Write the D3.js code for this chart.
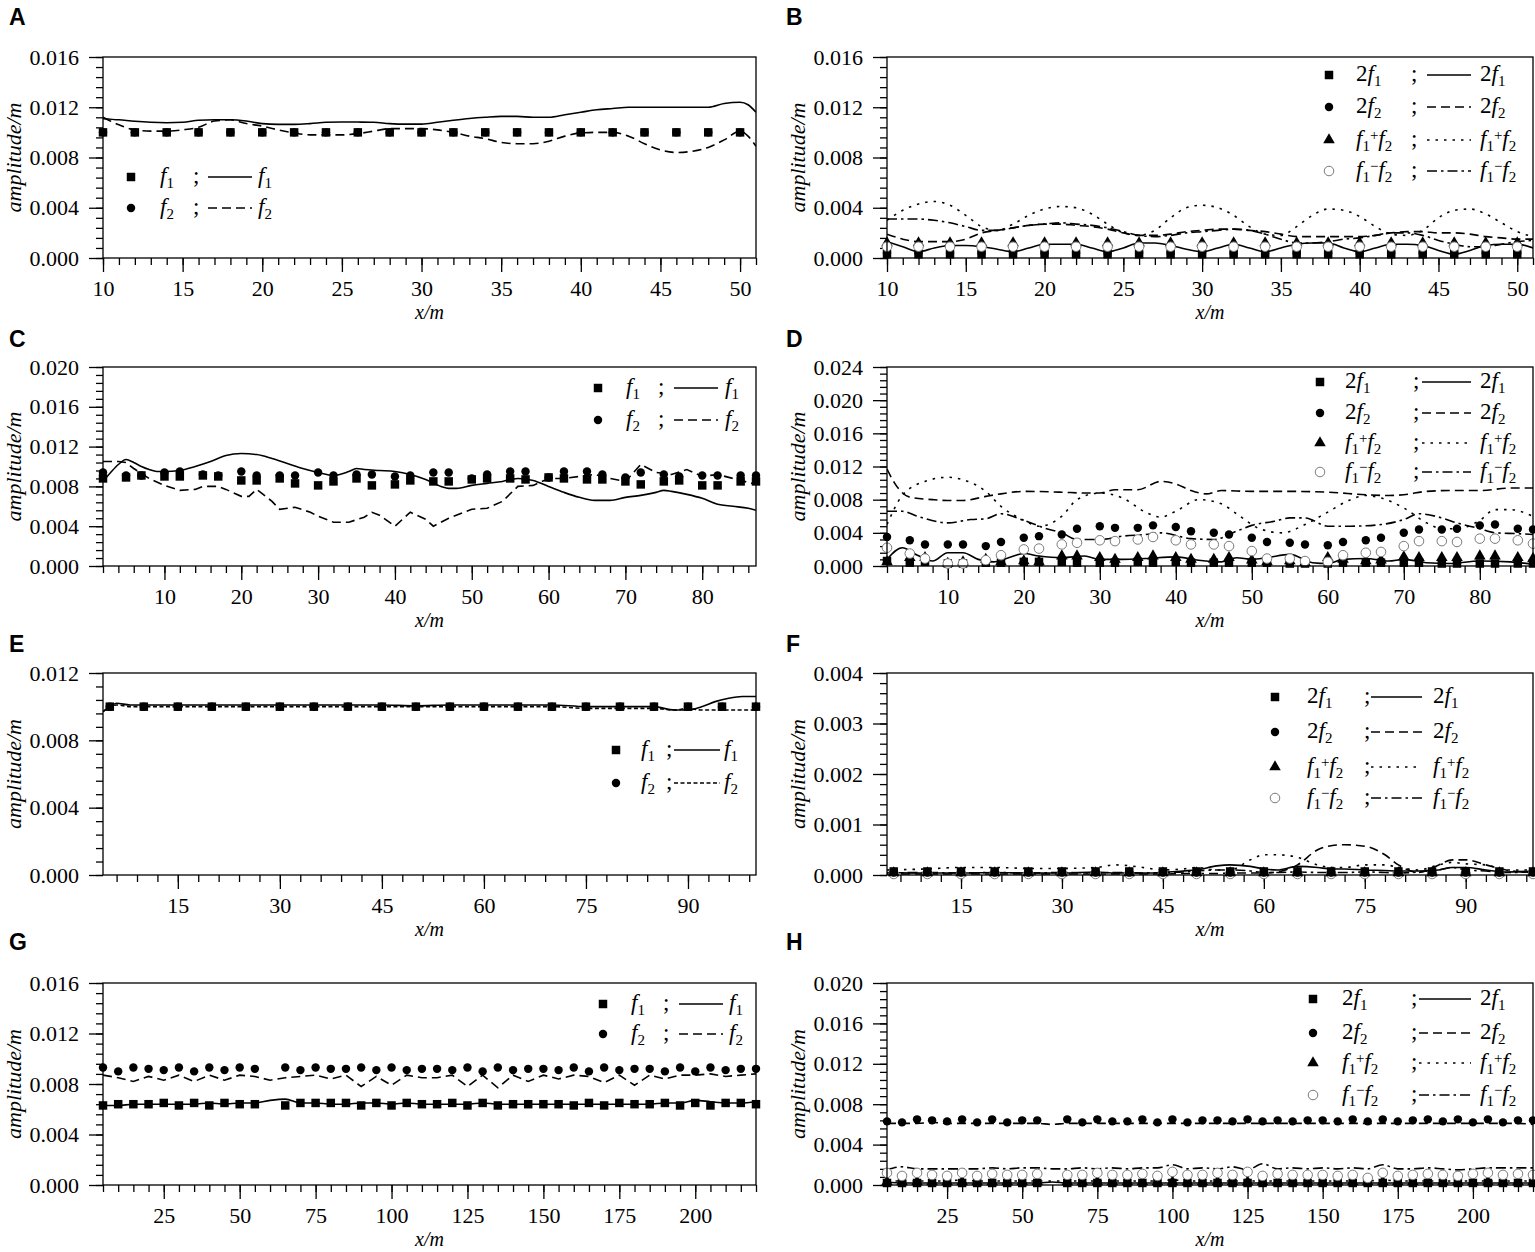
<!DOCTYPE html>
<html lang="en">
<head>
<meta charset="utf-8">
<title>Amplitude along the flume</title>
<script src="https://d3js.org/d3.v7.min.js"></script>
<style>
  body { margin: 0; background: #fff; }
  svg { display: block; }
  .tick text { font-family: "Liberation Serif", "Times New Roman", serif; font-size: 22px; fill: #000; }
  .tick line { stroke: #000; stroke-width: 1.3; }
  .frame { fill: none; stroke: #000; stroke-width: 1.3; }
  .axlab { font-family: "Liberation Serif", serif; font-style: italic; font-size: 20px; }
  .ylab { font-family: "Liberation Serif", serif; font-style: italic; font-size: 22px; }
  .plab { font-family: "Liberation Sans", Arial, sans-serif; font-weight: bold; font-size: 23px; }
  .leg { font-family: "Liberation Serif", serif; font-size: 23px; }
</style>
</head>
<body>
<svg id="fig" width="1535" height="1252"></svg>
<script>
// ---- tick labels ----
var xTicksAB = [10, 15, 20, 25, 30, 35, 40, 45, 50];
var xTicksCD = [10, 20, 30, 40, 50, 60, 70, 80];
var xTicksEF = [15, 30, 45, 60, 75, 90];
var xTicksGH = [25, 50, 75, 100, 125, 150, 175, 200];
var yTicks016 = [0, 0.004, 0.008, 0.012, 0.016];
var yTicks020 = [0, 0.004, 0.008, 0.012, 0.016, 0.020];
var yTicks024 = [0, 0.004, 0.008, 0.012, 0.016, 0.020, 0.024];
var yTicks012 = [0, 0.004, 0.008, 0.012];
var yTicks004 = [0, 0.001, 0.002, 0.003, 0.004];

// ---- panel A / B ----
var markX_AB = [10, 12, 14, 16, 18, 20, 22, 24, 26, 28, 30, 32, 34, 36, 38, 40, 42, 44, 46, 48, 50];
var aF1Mark = [0.0100, 0.0100, 0.0100, 0.0100, 0.0100, 0.0100, 0.0100, 0.0100, 0.0100, 0.0100, 0.0100,
  0.0100, 0.0100, 0.0100, 0.0100, 0.0100, 0.0100, 0.0100, 0.0100, 0.0100, 0.0100];
var aF2Mark = [0.0100, 0.0100, 0.0100, 0.0100, 0.0100, 0.0100, 0.0100, 0.0100, 0.0100, 0.0100, 0.0100,
  0.0100, 0.0100, 0.0100, 0.0100, 0.0100, 0.0100, 0.0100, 0.0100, 0.0100, 0.0100];
var lineX_A = [10, 11, 12, 13, 14, 15, 16, 17, 18, 19, 20, 21, 22, 23, 24, 25, 26, 27, 28, 29, 30,
  31, 32, 33, 34, 35, 36, 37, 38, 39, 40, 41, 42, 43, 44, 45, 46, 47, 48, 49, 50, 50.5, 51];
var aF1Line = [0.01109, 0.0110, 0.01088, 0.0108, 0.01077, 0.0108, 0.01096, 0.0110, 0.0110, 0.0109,
  0.0107, 0.01064, 0.01064, 0.0107, 0.0108, 0.01083, 0.01082, 0.0108, 0.0107, 0.01066,
  0.01066, 0.0108, 0.01096, 0.0111, 0.0112, 0.01127, 0.01127, 0.0112, 0.0112, 0.0114,
  0.0116, 0.0118, 0.0119, 0.0120, 0.0120, 0.0120, 0.0120, 0.0120, 0.0120, 0.0123,
  0.0124, 0.0122, 0.0116];
var aF2Line = [0.0112, 0.0106, 0.0102, 0.0101, 0.0101, 0.0102, 0.0104, 0.0109, 0.0110, 0.0107,
  0.0105, 0.0102, 0.00995, 0.0098, 0.0098, 0.0098, 0.0099, 0.0101, 0.0103, 0.0103,
  0.0103, 0.0102, 0.0100, 0.0097, 0.0095, 0.0092, 0.0091, 0.0091, 0.0093, 0.0097,
  0.00995, 0.0100, 0.0100, 0.0097, 0.0091, 0.0086, 0.0084, 0.0085, 0.0088, 0.0094,
  0.0101, 0.0097, 0.0089];

var b2f1Mark = [0.0003, 0.0003, 0.0003, 0.0003, 0.0003, 0.0003, 0.0003, 0.0003, 0.0003, 0.0003, 0.0003,
  0.0003, 0.0003, 0.0003, 0.0003, 0.0003, 0.0003, 0.0003, 0.0003, 0.0003, 0.0003];
var b2f2Mark = [0.0004, 0.0004, 0.0004, 0.0004, 0.0004, 0.0004, 0.0004, 0.0004, 0.0004, 0.0004, 0.0004,
  0.0004, 0.0004, 0.0004, 0.0004, 0.0004, 0.0004, 0.0004, 0.0004, 0.0004, 0.0004];
var bSumMark = [0.0012, 0.0012, 0.0012, 0.0012, 0.0012, 0.0012, 0.0012, 0.0012, 0.0012, 0.0012, 0.0012,
  0.0012, 0.0012, 0.0012, 0.0012, 0.0012, 0.0012, 0.0012, 0.0012, 0.0012, 0.0012];
var bDiffMark = [0.0009, 0.0009, 0.0009, 0.0009, 0.0009, 0.0009, 0.0009, 0.0009, 0.0009, 0.0009, 0.0009,
  0.0009, 0.0009, 0.0009, 0.0009, 0.0009, 0.0009, 0.0009, 0.0009, 0.0009, 0.0009];
var lineX_B = [10, 11, 12, 13, 14, 15, 16, 17, 18, 19, 20, 21, 22, 23, 24, 25, 26, 27, 28, 29, 30,
  31, 32, 33, 34, 35, 36, 37, 38, 39, 40, 41, 42, 43, 44, 45, 46, 47, 48, 49, 50, 51];
var b2f1Line = [0.0013, 0.0009, 0.0005, 0.0008, 0.0010, 0.0010, 0.0009, 0.0007, 0.0005, 0.0008,
  0.0011, 0.0011, 0.0011, 0.0008, 0.0005, 0.0008, 0.0012, 0.0012, 0.0010, 0.0007,
  0.0005, 0.0008, 0.0011, 0.0008, 0.0005, 0.0008, 0.0011, 0.0012, 0.0012, 0.0008,
  0.0005, 0.0008, 0.0011, 0.0011, 0.0010, 0.0006, 0.0003, 0.0006, 0.0010, 0.0011,
  0.0011, 0.0008];
var b2f2Line = [0.0019, 0.0015, 0.0013, 0.0013, 0.0013, 0.0015, 0.0020, 0.0022, 0.0024, 0.0026,
  0.0027, 0.0027, 0.0026, 0.0025, 0.0023, 0.0020, 0.0018, 0.0018, 0.0019, 0.0021,
  0.0022, 0.0023, 0.0023, 0.0022, 0.0021, 0.0019, 0.0017, 0.0017, 0.0017, 0.0017,
  0.0017, 0.0018, 0.0020, 0.0021, 0.0021, 0.0020, 0.0020, 0.0019, 0.0017, 0.0016,
  0.0015, 0.0015];
var bSumLine = [0.0030, 0.0038, 0.0043, 0.0045, 0.0042, 0.0034, 0.0025, 0.0022, 0.0027, 0.0034,
  0.0039, 0.0041, 0.0040, 0.0035, 0.0027, 0.0020, 0.0018, 0.0022, 0.0032, 0.0040,
  0.0042, 0.0040, 0.0034, 0.0025, 0.0019, 0.0018, 0.0025, 0.0034, 0.0039, 0.0038,
  0.0033, 0.0025, 0.0019, 0.0018, 0.0022, 0.0032, 0.0038, 0.0039, 0.0035, 0.0028,
  0.0021, 0.0017];
var bDiffLine = [0.0031, 0.0031, 0.0031, 0.0030, 0.0028, 0.0025, 0.0022, 0.0022, 0.0024, 0.0026,
  0.0027, 0.0028, 0.0027, 0.0026, 0.0024, 0.0021, 0.0018, 0.0017, 0.0018, 0.0020,
  0.0021, 0.0022, 0.0023, 0.0022, 0.0019, 0.0015, 0.0012, 0.0012, 0.0013, 0.0015,
  0.0016, 0.0018, 0.0020, 0.0020, 0.0018, 0.0014, 0.0011, 0.0009, 0.0009, 0.0011,
  0.0013, 0.0014];

// ---- panel C / D ----
var markX_CD = [2, 5, 7, 10, 12, 15, 17, 20, 22, 25, 27, 30, 32, 35, 37, 40, 42, 45, 47, 50,
  52, 55, 57, 60, 62, 65, 67, 70, 72, 75, 77, 80, 82, 85, 87];
var cF1Mark = [0.0088, 0.0089, 0.0091, 0.0090, 0.0090, 0.0091, 0.0090, 0.0086, 0.0086, 0.0088,
  0.0083, 0.0081, 0.0085, 0.0088, 0.0081, 0.0082, 0.0086, 0.0085, 0.0085, 0.0087,
  0.0088, 0.0088, 0.0087, 0.0089, 0.0088, 0.0087, 0.0087, 0.0085, 0.0082, 0.0085,
  0.0086, 0.0081, 0.0081, 0.0085, 0.0085];
var cF2Mark = [0.0094, 0.0091, 0.0091, 0.0094, 0.0095, 0.0092, 0.0091, 0.0095, 0.0091, 0.0091,
  0.0091, 0.0094, 0.0091, 0.0092, 0.0092, 0.0090, 0.0091, 0.0094, 0.0094, 0.0088,
  0.0092, 0.0095, 0.0095, 0.0089, 0.0095, 0.0095, 0.0092, 0.0089, 0.0094, 0.0092,
  0.0090, 0.0091, 0.0091, 0.0091, 0.0091];
var cF1X = [2, 3, 4, 5, 6, 7, 8, 9, 10, 12, 14, 16, 18, 20, 22, 24, 26, 28, 30, 32, 34, 35, 36, 38,
  40, 42, 44, 46, 47, 48, 50, 52, 54, 56, 58, 60, 62, 64, 66, 68, 70, 72, 74, 75, 76, 78, 80, 82, 84, 86, 87];
var cF1Line = [0.0085, 0.0094, 0.0102, 0.0107, 0.0104, 0.0100, 0.0097, 0.0095, 0.0095,
  0.0096, 0.0100, 0.0105, 0.0111, 0.0113, 0.0112, 0.0108, 0.0103, 0.0098, 0.0094,
  0.0091, 0.0095, 0.0098, 0.0097, 0.0096, 0.0095, 0.0092, 0.0087, 0.0080, 0.0078,
  0.0078, 0.0081, 0.0083, 0.0085, 0.0088, 0.0086, 0.0080, 0.0074, 0.0069, 0.0066,
  0.0066, 0.0069, 0.0071, 0.0074, 0.0076, 0.0075, 0.0072, 0.0068, 0.0062, 0.0060,
  0.0058, 0.0056];
var cF2X = [2, 4, 5, 6, 8, 10, 12, 14, 15, 17, 18, 20, 21, 22, 24, 25, 27, 29, 30, 32, 34, 36, 37, 38,
  40, 42, 44, 45, 47, 50, 52, 54, 56, 58, 60, 62, 64, 66, 68, 70, 72, 74, 76, 78, 80, 82, 84, 87];
var cF2Line = [0.0105, 0.0105, 0.0104, 0.0098, 0.0088, 0.0081, 0.0076, 0.0077, 0.0080, 0.0080,
  0.0077, 0.0070, 0.0070, 0.0077, 0.0065, 0.0057, 0.0059, 0.0054, 0.0050, 0.0044,
  0.0044, 0.0049, 0.0054, 0.0051, 0.0040, 0.0054, 0.0047, 0.0040, 0.0048, 0.0057,
  0.0058, 0.0065, 0.0080, 0.0081, 0.0088, 0.0088, 0.0090, 0.0092, 0.0088, 0.0085,
  0.0102, 0.0094, 0.0092, 0.0097, 0.0090, 0.0092, 0.0088, 0.0082];

var d2f1Mark = [0.0006, 0.0004, 0.0005, 0.0003, 0.0003, 0.0004, 0.0004, 0.0005, 0.0005, 0.0005,
  0.0004, 0.0004, 0.0004, 0.0005, 0.0004, 0.0005, 0.0004, 0.0004, 0.0004, 0.0004,
  0.0004, 0.0003, 0.0003, 0.0003, 0.0004, 0.0004, 0.0004, 0.0004, 0.0004, 0.0003,
  0.0003, 0.0003, 0.0003, 0.0003, 0.0003];
var d2f2Mark = [0.0035, 0.0031, 0.0026, 0.0026, 0.0026, 0.0024, 0.0029, 0.0034, 0.0036, 0.0038,
  0.0045, 0.0048, 0.0046, 0.0046, 0.0049, 0.0047, 0.0042, 0.0040, 0.0038, 0.0034,
  0.0029, 0.0028, 0.0026, 0.0025, 0.0029, 0.0031, 0.0034, 0.0040, 0.0044, 0.0044,
  0.0045, 0.0049, 0.0050, 0.0045, 0.0044];
var dSumMark = [0.0005, 0.0010, 0.0010, 0.0003, 0.0005, 0.0008, 0.0005, 0.0006, 0.0005, 0.0012,
  0.0012, 0.0010, 0.0008, 0.0010, 0.0012, 0.0010, 0.0008, 0.0008, 0.0010, 0.0007,
  0.0005, 0.0006, 0.0004, 0.0010, 0.0008, 0.0006, 0.0007, 0.0011, 0.0010, 0.0010,
  0.0010, 0.0012, 0.0012, 0.0010, 0.0009];
var dDiffMark = [0.0022, 0.0015, 0.0009, 0.0003, 0.0003, 0.0007, 0.0013, 0.0020, 0.0021, 0.0026,
  0.0028, 0.0031, 0.0030, 0.0032, 0.0035, 0.0031, 0.0026, 0.0026, 0.0024, 0.0018,
  0.0009, 0.0009, 0.0006, 0.0005, 0.0013, 0.0016, 0.0017, 0.0024, 0.0030, 0.0030,
  0.0029, 0.0033, 0.0033, 0.0031, 0.0027];
var d2f1X = [2, 4, 6, 8, 10, 12, 14, 16, 18, 20, 22, 25, 28, 30, 33, 36, 40, 43, 46, 48,
  50, 52, 55, 58, 60, 62, 65, 68, 70, 73, 76, 80, 84, 87];
var d2f1Line = [0.0008, 0.0022, 0.0013, 0.0006, 0.0016, 0.0016, 0.0008, 0.0005, 0.0010, 0.0015,
  0.0012, 0.0010, 0.0012, 0.0008, 0.0008, 0.0009, 0.0011, 0.0007, 0.0005, 0.0010,
  0.0008, 0.0010, 0.0014, 0.0004, 0.0003, 0.0008, 0.0009, 0.0006, 0.0008, 0.0004,
  0.0003, 0.0006, 0.0005, 0.0002];
var d2f2X = [2, 3, 5, 8, 10, 12, 15, 17, 20, 25, 28, 30, 32, 35, 38, 40, 42, 44, 46, 50,
  55, 60, 65, 68, 70, 73, 76, 80, 84, 87];
var d2f2Line = [0.0117, 0.0100, 0.0083, 0.0080, 0.0079, 0.0079, 0.0084, 0.0087, 0.0090, 0.0089,
  0.0088, 0.0088, 0.0092, 0.0092, 0.0102, 0.0099, 0.0091, 0.0087, 0.0091, 0.0090,
  0.0090, 0.0089, 0.0086, 0.0085, 0.0086, 0.0090, 0.0091, 0.0091, 0.0094, 0.0094];
var dSumX = [2, 4, 7, 10, 12, 15, 17, 20, 22, 25, 27, 30, 33, 36, 38, 40, 43, 46, 48, 51,
  54, 57, 60, 63, 65, 67, 70, 73, 75, 77, 80, 82, 84, 87];
var dSumLine = [0.0050, 0.0085, 0.0102, 0.0107, 0.0104, 0.0090, 0.0072, 0.0055, 0.0048, 0.0060,
  0.0080, 0.0088, 0.0082, 0.0065, 0.0059, 0.0066, 0.0080, 0.0075, 0.0063, 0.0045,
  0.0040, 0.0050, 0.0065, 0.0080, 0.0085, 0.0082, 0.0070, 0.0052, 0.0045, 0.0045,
  0.0055, 0.0068, 0.0068, 0.0060];
var dDiffX = [2, 4, 6, 10, 13, 15, 17, 20, 23, 25, 27, 30, 33, 36, 38, 42, 45, 48, 50, 53,
  55, 57, 60, 63, 67, 70, 72, 75, 77, 80, 82, 85, 87];
var dDiffLine = [0.0066, 0.0066, 0.0060, 0.0052, 0.0056, 0.0057, 0.0063, 0.0055, 0.0045, 0.0040,
  0.0032, 0.0032, 0.0036, 0.0038, 0.0040, 0.0033, 0.0032, 0.0042, 0.0049, 0.0054,
  0.0058, 0.0058, 0.0048, 0.0048, 0.0050, 0.0056, 0.0063, 0.0058, 0.0052, 0.0045,
  0.0040, 0.0039, 0.0038];

// ---- panel E / F ----
var markX_EF = [5, 10, 15, 20, 25, 30, 35, 40, 45, 50, 55, 60, 65, 70, 75, 80, 85, 90, 95, 100];
var eF1Mark = [0.0100, 0.0100, 0.0100, 0.0100, 0.0100, 0.0100, 0.0100, 0.0100, 0.0100, 0.0100,
  0.0100, 0.0100, 0.0100, 0.0100, 0.0100, 0.0100, 0.0100, 0.0100, 0.0100, 0.0100];
var eF2Mark = [0.0100, 0.0100, 0.0100, 0.0100, 0.0100, 0.0100, 0.0100, 0.0100, 0.0100, 0.0100,
  0.0100, 0.0100, 0.0100, 0.0100, 0.0100, 0.0100, 0.0100, 0.0100, 0.0100, 0.0100];
var lineX_E = [4, 5, 6, 8, 10, 15, 20, 25, 30, 35, 40, 45, 50, 55, 60, 65, 70, 75, 80, 85,
  88, 90, 92, 94, 96, 98, 100];
var eF1Line = [0.0097, 0.0100, 0.0102, 0.0101, 0.0101, 0.0101, 0.0101, 0.0101, 0.0101, 0.0101,
  0.0101, 0.0101, 0.01005, 0.0101, 0.0101, 0.0101, 0.0101, 0.0100, 0.0100, 0.0100,
  0.0098, 0.0098, 0.0100, 0.0103, 0.0105, 0.0106, 0.0106];
var eF2Line = [0.0097, 0.0100, 0.0101, 0.0100, 0.0100, 0.0100, 0.0100, 0.0100, 0.0100, 0.0100,
  0.0100, 0.0100, 0.0100, 0.0100, 0.0100, 0.0100, 0.0100, 0.0099, 0.0099, 0.0099,
  0.0098, 0.0099, 0.0098, 0.0098, 0.0098, 0.0098, 0.0098];

var f2f1Mark = [0.00007, 0.00007, 0.00007, 0.00007, 0.00007, 0.00007, 0.00007, 0.00007, 0.00007, 0.00007,
  0.00007, 0.00007, 0.00007, 0.00007, 0.00007, 0.00007, 0.00007, 0.00007, 0.00007, 0.00007];
var f2f2Mark = [0.00005, 0.00005, 0.00005, 0.00005, 0.00005, 0.00005, 0.00005, 0.00005, 0.00005, 0.00005,
  0.00005, 0.00005, 0.00005, 0.00005, 0.00005, 0.00005, 0.00005, 0.00005, 0.00005, 0.00005];
var fSumMark = [0.00004, 0.00004, 0.00004, 0.00004, 0.00004, 0.00004, 0.00004, 0.00004, 0.00004, 0.00004,
  0.00004, 0.00004, 0.00004, 0.00004, 0.00004, 0.00004, 0.00004, 0.00004, 0.00004, 0.00004];
var fDiffMark = [0.00002, 0.00002, 0.00002, 0.00002, 0.00002, 0.00002, 0.00002, 0.00002, 0.00002, 0.00002,
  0.00002, 0.00002, 0.00002, 0.00002, 0.00002, 0.00002, 0.00002, 0.00002, 0.00002, 0.00002];
var lineX_F = [4, 10, 15, 20, 25, 30, 35, 38, 42, 45, 48, 50, 53, 55, 58, 60, 62, 65, 68, 70,
  72, 75, 78, 80, 83, 86, 88, 90, 93, 96, 100];
var f2f1Line = [0.00005, 0.00004, 0.00004, 0.00005, 0.00004, 0.00004, 0.00006, 0.00004, 0.00004, 0.00005,
  0.00008, 0.0001, 0.00018, 0.0002, 0.00017, 0.00012, 0.0001, 0.00017, 0.00015, 0.00012,
  0.00012, 0.0001, 0.00009, 0.00008, 0.00008, 0.0001, 0.00015, 0.00015, 0.0001, 0.00006,
  0.00008];
var f2f2Line = [0.00002, 0.00002, 0.00002, 0.00002, 0.00002, 0.00002, 0.00002, 0.00002, 0.00002, 0.00002,
  0.00003, 0.00003, 0.00003, 0.00004, 0.00004, 0.00004, 0.00006, 0.0002, 0.0005, 0.00058,
  0.0006, 0.00057, 0.0004, 0.0002, 0.00005, 0.0002, 0.0003, 0.0003, 0.0002, 0.0001,
  0.00005];
var fSumLine = [0.0001, 0.00012, 0.00015, 0.00015, 0.00013, 0.00013, 0.00015, 0.0002, 0.00015, 0.0001,
  0.00012, 0.00015, 0.0001, 0.0001, 0.0003, 0.0004, 0.0004, 0.00035, 0.0002, 0.00015,
  0.00015, 0.0002, 0.0002, 0.00015, 0.0001, 0.0002, 0.00025, 0.00022, 0.0002, 0.0001,
  0.0001];
var fDiffLine = [0.00004, 0.00005, 0.00004, 0.00005, 0.00004, 0.00005, 0.00004, 0.00005, 0.00004, 0.00005,
  0.00006, 0.00008, 0.0001, 0.0001, 0.00008, 0.00005, 0.00005, 0.00006, 0.00005, 0.00005,
  0.00005, 0.00006, 0.00005, 0.00004, 0.00006, 0.0001, 0.00015, 0.0001, 0.00008, 0.00005,
  0.00006];

// ---- panel G / H ----
var markX_GH = [5, 10, 15, 20, 25, 30, 35, 40, 45, 50, 55, 65, 70, 75, 80, 85, 90, 95, 100, 105,
  110, 115, 120, 125, 130, 135, 140, 145, 150, 155, 160, 165, 170, 175, 180, 185, 190, 195, 200,
  205, 210, 215, 220];
var gF1Mark = [0.0063, 0.0064, 0.0064, 0.0064, 0.0065, 0.0063, 0.0065, 0.0063, 0.0065, 0.0064, 0.0064,
  0.0063, 0.0065, 0.0065, 0.0065, 0.0065, 0.0063, 0.0065, 0.0063, 0.0065, 0.0064,
  0.0064, 0.0065, 0.0063, 0.0065, 0.0063, 0.0064, 0.0064, 0.0064, 0.0064, 0.0063,
  0.0065, 0.0063, 0.0065, 0.0064, 0.0064, 0.0065, 0.0063, 0.0065, 0.0063, 0.0065,
  0.0065, 0.0064];
var gF2Mark = [0.0093, 0.0090, 0.0093, 0.0092, 0.0091, 0.0093, 0.0090, 0.0093, 0.0091, 0.0093, 0.0092,
  0.0093, 0.0091, 0.0093, 0.0092, 0.0092, 0.0093, 0.0091, 0.0093, 0.0091, 0.0092,
  0.0092, 0.0091, 0.0093, 0.0090, 0.0093, 0.0091, 0.0092, 0.0092, 0.0091, 0.0093,
  0.0090, 0.0093, 0.0091, 0.0092, 0.0092, 0.0090, 0.0093, 0.0090, 0.0093, 0.0091,
  0.0092, 0.0092];
var lineX_GH = [5, 10, 15, 20, 25, 30, 35, 40, 45, 50, 55, 60, 65, 70, 75, 80, 85, 90, 95, 100,
  105, 110, 115, 120, 125, 130, 135, 140, 145, 150, 155, 160, 165, 170, 175, 180, 185, 190, 195, 200,
  205, 210, 215, 220];
var gF1Line = [0.0063, 0.0063, 0.0064, 0.0064, 0.0064, 0.0064, 0.0064, 0.0065, 0.0064, 0.0065,
  0.0065, 0.0067, 0.0068, 0.0065, 0.0065, 0.0064, 0.0064, 0.0065, 0.0065, 0.0064,
  0.0065, 0.0064, 0.0064, 0.0064, 0.0064, 0.0065, 0.0064, 0.0064, 0.0064, 0.0064,
  0.0064, 0.0064, 0.0064, 0.0064, 0.0064, 0.0064, 0.0064, 0.0065, 0.0065, 0.0067,
  0.0066, 0.0065, 0.0065, 0.0066];
var gF2Line = [0.0087, 0.0085, 0.0082, 0.0086, 0.0083, 0.0087, 0.0082, 0.0087, 0.0083, 0.0087,
  0.0086, 0.0083, 0.0085, 0.0086, 0.0087, 0.0084, 0.0087, 0.0078, 0.0086, 0.0079,
  0.0087, 0.0085, 0.0085, 0.0087, 0.0078, 0.0087, 0.0077, 0.0087, 0.0082, 0.0087,
  0.0084, 0.0087, 0.0086, 0.0081, 0.0087, 0.0079, 0.0087, 0.0084, 0.0087, 0.0087,
  0.0088, 0.0086, 0.0087, 0.0088];

var h2f1Mark = [0.0002, 0.0002, 0.0002, 0.0002, 0.0002, 0.0002, 0.0002, 0.0002, 0.0002, 0.0002, 0.0002,
  0.0002, 0.0002, 0.0002, 0.0002, 0.0002, 0.0002, 0.0002, 0.0002, 0.0002, 0.0002,
  0.0002, 0.0002, 0.0002, 0.0002, 0.0002, 0.0002, 0.0002, 0.0002, 0.0002, 0.0002,
  0.0002, 0.0002, 0.0002, 0.0002, 0.0002, 0.0002, 0.0002, 0.0002, 0.0002, 0.0002,
  0.0002, 0.0002];
var h2f2Mark = [0.0063, 0.0062, 0.0065, 0.0064, 0.0063, 0.0065, 0.0062, 0.0065, 0.0062, 0.0064, 0.0064,
  0.0065, 0.0062, 0.0065, 0.0063, 0.0063, 0.0065, 0.0062, 0.0065, 0.0062, 0.0064,
  0.0064, 0.0063, 0.0065, 0.0063, 0.0064, 0.0063, 0.0064, 0.0064, 0.0063, 0.0065,
  0.0063, 0.0065, 0.0063, 0.0064, 0.0065, 0.0063, 0.0065, 0.0062, 0.0065, 0.0062,
  0.0064, 0.0064];
var hSumMark = [0.0003, 0.0003, 0.0003, 0.0003, 0.0003, 0.0003, 0.0003, 0.0003, 0.0003, 0.0003, 0.0003,
  0.0003, 0.0003, 0.0003, 0.0003, 0.0003, 0.0003, 0.0003, 0.0003, 0.0003, 0.0003,
  0.0003, 0.0003, 0.0003, 0.0003, 0.0003, 0.0003, 0.0003, 0.0003, 0.0003, 0.0003,
  0.0003, 0.0003, 0.0003, 0.0003, 0.0003, 0.0003, 0.0003, 0.0003, 0.0003, 0.0003,
  0.0003, 0.0003];
var hDiffMark = [0.0012, 0.0009, 0.0012, 0.0010, 0.0009, 0.0012, 0.0009, 0.0011, 0.0010, 0.0010, 0.0011,
  0.0010, 0.0010, 0.0012, 0.0010, 0.0010, 0.0011, 0.0009, 0.0013, 0.0010, 0.0010,
  0.0012, 0.0010, 0.0013, 0.0009, 0.0011, 0.0010, 0.0010, 0.0010, 0.0009, 0.0010,
  0.0007, 0.0012, 0.0009, 0.0010, 0.0011, 0.0010, 0.0009, 0.0011, 0.0012, 0.0010,
  0.0011, 0.0010];
var h2f1Line = [0.0003, 0.0002, 0.0002, 0.0002, 0.0002, 0.0002, 0.0002, 0.0002, 0.0002, 0.0002,
  0.0002, 0.0003, 0.0002, 0.0002, 0.0002, 0.0002, 0.0002, 0.0002, 0.0002, 0.0002,
  0.0002, 0.0002, 0.0002, 0.0002, 0.0002, 0.0002, 0.0002, 0.0002, 0.0002, 0.0002,
  0.0002, 0.0002, 0.0002, 0.0002, 0.0002, 0.0002, 0.0002, 0.0002, 0.0002, 0.0002,
  0.0002, 0.0002, 0.0002, 0.0002];
var h2f2Line = [0.0061, 0.0061, 0.0061, 0.0062, 0.0061, 0.0061, 0.0061, 0.0061, 0.0061, 0.0061,
  0.0061, 0.0060, 0.0061, 0.0061, 0.0061, 0.0061, 0.0061, 0.0061, 0.0061, 0.0061,
  0.0061, 0.0061, 0.0061, 0.0061, 0.0061, 0.0061, 0.0061, 0.0061, 0.0061, 0.0061,
  0.0061, 0.0061, 0.0061, 0.0061, 0.0061, 0.0061, 0.0061, 0.0061, 0.0061, 0.0061,
  0.0061, 0.0061, 0.0061, 0.0060];
var hSumLine = [0.0004, 0.0004, 0.0004, 0.0004, 0.0004, 0.0005, 0.0004, 0.0004, 0.0004, 0.0004,
  0.0004, 0.0004, 0.0004, 0.0004, 0.0004, 0.0004, 0.0004, 0.0004, 0.0004, 0.0005,
  0.0004, 0.0004, 0.0004, 0.0004, 0.0004, 0.0004, 0.0004, 0.0004, 0.0004, 0.0004,
  0.0004, 0.0004, 0.0004, 0.0005, 0.0004, 0.0004, 0.0004, 0.0004, 0.0004, 0.0004,
  0.0004, 0.0004, 0.0004, 0.0004];
var hDiffLine = [0.0015, 0.0018, 0.0016, 0.0016, 0.0016, 0.0016, 0.0016, 0.0017, 0.0016, 0.0017,
  0.0017, 0.0016, 0.0016, 0.0017, 0.0016, 0.0017, 0.0016, 0.0017, 0.0017, 0.0020,
  0.0016, 0.0017, 0.0016, 0.0018, 0.0015, 0.0021, 0.0016, 0.0017, 0.0016, 0.0017,
  0.0016, 0.0017, 0.0016, 0.0020, 0.0016, 0.0016, 0.0017, 0.0016, 0.0015, 0.0016,
  0.0017, 0.0017, 0.0017, 0.0017];

// ---- styles / layout ----
var MARK = {
  sq:   { type: d3.symbolSquare,   size: 72, fill: "#000", stroke: "none" },
  dot:  { type: d3.symbolCircle,   size: 56, fill: "#000", stroke: "none" },
  tri:  { type: d3.symbolTriangle, size: 58, fill: "#000", stroke: "none" },
  ring: { type: d3.symbolCircle,   size: 72, fill: "#fff", stroke: "#7a7a7a" }
};
var DASH = { solid: null, dash: "9,5", dot: "2.5,6", dashdot: "10,4,2.5,4", fine: "4,2.5" };
var LAB = {
  "f1":    [["f", "it"], ["1", "sub"]],
  "f2":    [["f", "it"], ["2", "sub"]],
  "2f1":   [["2", ""], ["f", "it"], ["1", "sub"]],
  "2f2":   [["2", ""], ["f", "it"], ["2", "sub"]],
  "f1+f2": [["f", "it"], ["1", "sub"], ["+", "sup"], ["f", "it"], ["2", "sub"]],
  "f1-f2": [["f", "it"], ["1", "sub"], ["\u2212", "sup"], ["f", "it"], ["2", "sub"]]
};
var COLS = [[103, 756], [887, 1533]];
var ROWS = [[57, 258], [367, 566], [673, 875], [983, 1185]];
var PLAB_Y = [25, 347, 652, 950];

var fourLeg = [
  { m: "sq", d: "solid", lab: "2f1" }, { m: "dot", d: "dash", lab: "2f2" },
  { m: "tri", d: "dot", lab: "f1+f2" }, { m: "ring", d: "dashdot", lab: "f1-f2" }
];
var twoLeg = [{ m: "sq", d: "solid", lab: "f1" }, { m: "dot", d: "dash", lab: "f2" }];

var panels = [
  { id: "A", col: 0, row: 0, xDom: [10, 51], xTicks: xTicksAB, xMinor: 1, yTicks: yTicks016, yMinor: 0.0008,
    lines: [[lineX_A, aF1Line, "solid"], [lineX_A, aF2Line, "dash"]],
    marks: [[markX_AB, aF2Mark, "dot"], [markX_AB, aF1Mark, "sq"]],
    leg: { ys: [177, 208], mx: 131, tx: 160, sx: 193, l1: 208, l2: 252, rx: 258, items: twoLeg } },
  { id: "B", col: 1, row: 0, xDom: [10, 51], xTicks: xTicksAB, xMinor: 1, yTicks: yTicks016, yMinor: 0.0008,
    lines: [[lineX_B, bSumLine, "dot"], [lineX_B, bDiffLine, "dashdot"], [lineX_B, b2f2Line, "dash"], [lineX_B, b2f1Line, "solid"]],
    marks: [[markX_AB, b2f2Mark, "dot"], [markX_AB, b2f1Mark, "sq"], [markX_AB, bSumMark, "tri"], [markX_AB, bDiffMark, "ring"]],
    leg: { ys: [75, 107, 140, 171], mx: 1329, tx: 1356, sx: 1411, l1: 1427, l2: 1471, rx: 1480, items: fourLeg } },
  { id: "C", col: 0, row: 1, xDom: [2, 87], xTicks: xTicksCD, xMinor: 2, yTicks: yTicks020, yMinor: 0.0008,
    lines: [[cF1X, cF1Line, "solid"], [cF2X, cF2Line, "dash", true]],
    marks: [[markX_CD, cF2Mark, "dot"], [markX_CD, cF1Mark, "sq"]],
    leg: { ys: [388, 420], mx: 598, tx: 626, sx: 658, l1: 674, l2: 718, rx: 725, items: twoLeg } },
  { id: "D", col: 1, row: 1, xDom: [2, 87], xTicks: xTicksCD, xMinor: 2, yTicks: yTicks024, yMinor: 0.0008,
    lines: [[dSumX, dSumLine, "dot"], [dDiffX, dDiffLine, "dashdot"], [d2f2X, d2f2Line, "dash"], [d2f1X, d2f1Line, "solid"]],
    marks: [[markX_CD, d2f2Mark, "dot"], [markX_CD, d2f1Mark, "sq"], [markX_CD, dSumMark, "tri"], [markX_CD, dDiffMark, "ring"]],
    leg: { ys: [382, 413, 443, 472], mx: 1320, tx: 1345, sx: 1413, l1: 1422, l2: 1471, rx: 1480, items: fourLeg } },
  { id: "E", col: 0, row: 2, xDom: [4, 100], xTicks: xTicksEF, xMinor: 3, yTicks: yTicks012, yMinor: 0.0008,
    lines: [[lineX_E, eF1Line, "solid"], [lineX_E, eF2Line, "fine"]],
    marks: [[markX_EF, eF2Mark, "dot"], [markX_EF, eF1Mark, "sq"]],
    leg: { ys: [750, 783], mx: 616, tx: 641, sx: 666, l1: 674, l2: 720, rx: 724,
      items: [{ m: "sq", d: "solid", lab: "f1" }, { m: "dot", d: "fine", lab: "f2" }] } },
  { id: "F", col: 1, row: 2, xDom: [4, 100], xTicks: xTicksEF, xMinor: 3, yTicks: yTicks004, yMinor: 0.0002,
    lines: [[lineX_F, fSumLine, "dot"], [lineX_F, fDiffLine, "dashdot"], [lineX_F, f2f2Line, "dash"], [lineX_F, f2f1Line, "solid"]],
    marks: [[markX_EF, fDiffMark, "ring"], [markX_EF, fSumMark, "tri"], [markX_EF, f2f2Mark, "dot"], [markX_EF, f2f1Mark, "sq"]],
    leg: { ys: [697, 732, 767, 798], mx: 1275, tx: 1307, sx: 1364, l1: 1371, l2: 1422, rx: 1433, items: fourLeg } },
  { id: "G", col: 0, row: 3, xDom: [5, 220], xTicks: xTicksGH, xMinor: 5, yTicks: yTicks016, yMinor: 0.0008,
    lines: [[lineX_GH, gF1Line, "solid"], [lineX_GH, gF2Line, "dash", true]],
    marks: [[markX_GH, gF2Mark, "dot"], [markX_GH, gF1Mark, "sq"]],
    leg: { ys: [1004, 1034], mx: 603, tx: 631, sx: 663, l1: 679, l2: 723, rx: 729, items: twoLeg } },
  { id: "H", col: 1, row: 3, xDom: [5, 220], xTicks: xTicksGH, xMinor: 5, yTicks: yTicks020, yMinor: 0.0008,
    lines: [[lineX_GH, hSumLine, "dot"], [lineX_GH, hDiffLine, "dashdot"], [lineX_GH, h2f2Line, "dash"], [lineX_GH, h2f1Line, "solid"]],
    marks: [[markX_GH, h2f2Mark, "dot"], [markX_GH, h2f1Mark, "sq"], [markX_GH, hSumMark, "tri"], [markX_GH, hDiffMark, "ring"]],
    leg: { ys: [999, 1033, 1063, 1095], mx: 1313, tx: 1342, sx: 1411, l1: 1419, l2: 1471, rx: 1480, items: fourLeg } }
];

var svg = d3.select("#fig");

function richText(g, x, y, tokens) {
  var t = g.append("text").attr("class", "leg").attr("x", x).attr("y", y);
  var shift = 0;
  tokens.forEach(function (tk) {
    var target = tk[1] === "sub" ? 5 : (tk[1] === "sup" ? -6 : 0);
    var ts = t.append("tspan").attr("dy", target - shift).text(tk[0]);
    shift = target;
    if (tk[1] === "it") ts.attr("font-style", "italic");
    if (tk[1] === "sub" || tk[1] === "sup") ts.attr("font-size", 15);
  });
}

function drawMark(g, kind, px, py) {
  var s = MARK[kind];
  g.append("path")
    .attr("d", d3.symbol().type(s.type).size(s.size)())
    .attr("transform", "translate(" + px + "," + py + ")")
    .attr("fill", s.fill)
    .attr("stroke", s.stroke)
    .attr("stroke-width", 1);
}

panels.forEach(function (p) {
  var xl = COLS[p.col][0], xr = COLS[p.col][1];
  var yt = ROWS[p.row][0], yb = ROWS[p.row][1];
  var yMax = p.yTicks[p.yTicks.length - 1];
  var x = d3.scaleLinear().domain(p.xDom).range([xl, xr]);
  var y = d3.scaleLinear().domain([0, yMax]).range([yb, yt]);
  var g = svg.append("g");

  // minor + major ticks
  var xMinor = d3.range(Math.ceil(p.xDom[0] / p.xMinor) * p.xMinor, p.xDom[1] + 1e-9, p.xMinor);
  var yMinor = d3.range(0, yMax + 1e-9, p.yMinor);
  g.append("g").attr("transform", "translate(0," + yb + ")")
    .call(d3.axisBottom(x).tickValues(xMinor).tickSize(7).tickFormat(""))
    .call(function (s) { s.select(".domain").remove(); });
  g.append("g").attr("transform", "translate(0," + yb + ")")
    .call(d3.axisBottom(x).tickValues(p.xTicks).tickSize(14).tickPadding(8).tickFormat(d3.format("d")))
    .call(function (s) { s.select(".domain").remove(); });
  g.append("g").attr("transform", "translate(" + xl + ",0)")
    .call(d3.axisLeft(y).tickValues(yMinor).tickSize(7).tickFormat(""))
    .call(function (s) { s.select(".domain").remove(); });
  g.append("g").attr("transform", "translate(" + xl + ",0)")
    .call(d3.axisLeft(y).tickValues(p.yTicks).tickSize(14).tickPadding(10).tickFormat(d3.format(".3f")))
    .call(function (s) { s.select(".domain").remove(); });

  // clip
  var cid = "clip" + p.id;
  g.append("clipPath").attr("id", cid).append("rect")
    .attr("x", xl).attr("y", yt).attr("width", xr - xl).attr("height", yb - yt);
  var plot = g.append("g").attr("clip-path", "url(#" + cid + ")");

  p.lines.forEach(function (ln) {
    var pts = ln[0].map(function (xv, k) { return [xv, ln[1][k]]; });
    var gen = d3.line().x(function (d) { return x(d[0]); }).y(function (d) { return y(d[1]); })
      .curve(ln[3] ? d3.curveLinear : d3.curveMonotoneX);
    plot.append("path").attr("d", gen(pts))
      .attr("fill", "none").attr("stroke", "#000").attr("stroke-width", 1.6)
      .attr("stroke-dasharray", DASH[ln[2]]);
  });

  p.marks.forEach(function (mk) {
    mk[0].forEach(function (xv, k) { drawMark(g, mk[2], x(xv), y(mk[1][k])); });
  });

  g.append("rect").attr("class", "frame")
    .attr("x", xl).attr("y", yt).attr("width", xr - xl).attr("height", yb - yt);

  // axis titles
  g.append("text").attr("class", "axlab")
    .attr("x", (xl + xr) / 2).attr("y", yb + 61).attr("text-anchor", "middle").text("x/m");
  g.append("text").attr("class", "ylab")
    .attr("transform", "translate(" + (xl - 90) + "," + ((yt + yb) / 2) + ") rotate(-90)")
    .attr("text-anchor", "middle").attr("dominant-baseline", "central").text("amplitude/m");
  g.append("text").attr("class", "plab")
    .attr("x", p.col === 0 ? 9 : 786).attr("y", PLAB_Y[p.row]).text(p.id);

  // legend
  var L = p.leg;
  L.items.forEach(function (it, k) {
    var ly = L.ys[k];
    drawMark(g, it.m, L.mx, ly);
    richText(g, L.tx, ly + 6, LAB[it.lab]);
    g.append("text").attr("class", "leg").attr("x", L.sx).attr("y", ly + 6).text(";");
    g.append("line").attr("x1", L.l1).attr("x2", L.l2).attr("y1", ly).attr("y2", ly)
      .attr("stroke", "#000").attr("stroke-width", 1.6).attr("stroke-dasharray", DASH[it.d]);
    richText(g, L.rx, ly + 6, LAB[it.lab]);
  });
});
</script>
</body>
</html>
